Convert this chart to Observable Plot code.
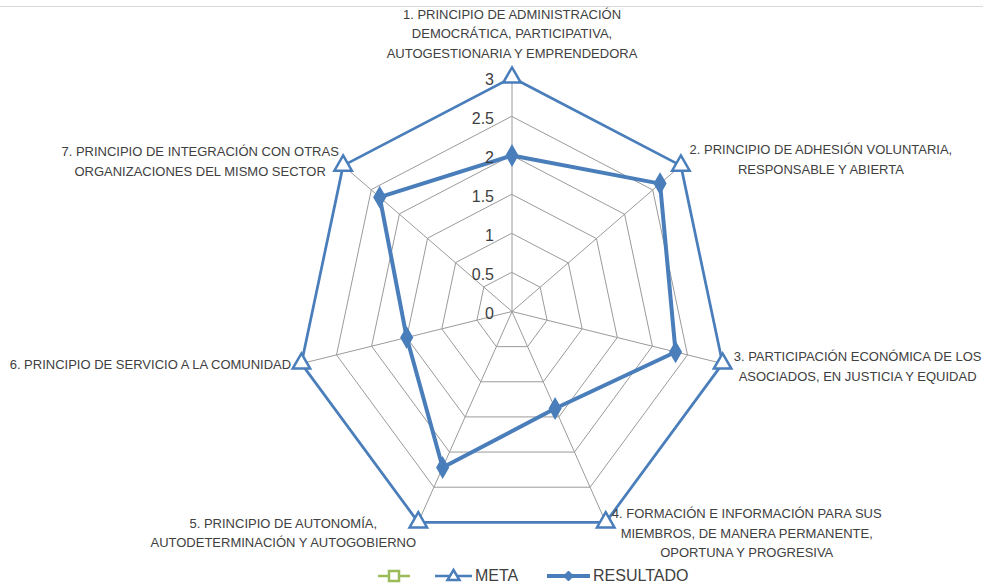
<!DOCTYPE html>
<html>
<head>
<meta charset="utf-8">
<script src="https://cdn.jsdelivr.net/npm/d3@7"></script>
<script src="https://cdn.jsdelivr.net/npm/@observablehq/plot@0.6"></script>
<style>
  html, body { margin: 0; padding: 0; background: #fff; }
  body { width: 983px; height: 588px; position: relative; overflow: hidden; font-family: "Liberation Sans", Arial, sans-serif; }
  #topline { position: absolute; left: 0; top: 6px; width: 983px; height: 0; border-top: 1px solid #d9d9d9; }
  #chart { position: absolute; left: 0; top: 0; }
  #legend { position: absolute; left: 0; top: 565px; width: 983px; height: 22px; font-size: 16px; color: #404040; }
  .item { position: absolute; top: 0; height: 22px; display: flex; align-items: center; }
  .item svg { display: block; }
</style>
</head>
<body>
<div id="topline"></div>
<div id="chart"></div>
<div id="legend"></div>
<script>
const categories = [
  "1. PRINCIPIO DE ADMINISTRACIÓN\nDEMOCRÁTICA, PARTICIPATIVA,\nAUTOGESTIONARIA Y EMPRENDEDORA",
  "2. PRINCIPIO DE ADHESIÓN VOLUNTARIA,\nRESPONSABLE Y ABIERTA",
  "3. PARTICIPACIÓN ECONÓMICA DE LOS\nASOCIADOS, EN JUSTICIA Y EQUIDAD",
  "4. FORMACIÓN E INFORMACIÓN PARA SUS\nMIEMBROS, DE MANERA PERMANENTE,\nOPORTUNA Y PROGRESIVA",
  "5. PRINCIPIO DE AUTONOMÍA,\nAUTODETERMINACIÓN Y AUTOGOBIERNO",
  "6. PRINCIPIO DE SERVICIO A LA COMUNIDAD",
  "7. PRINCIPIO DE INTEGRACIÓN CON OTRAS\nORGANIZACIONES DEL MISMO SECTOR"
];
const meta = [3, 3, 3, 3, 3, 3, 3];
const resultado = [2.0, 2.63, 2.33, 1.38, 2.22, 1.5, 2.35];
const tickValues = [0, 0.5, 1, 1.5, 2, 2.5, 3];
const tickLabels = ["0", "0.5", "1", "1.5", "2", "2.5", "3"];
const gridLevels = [0.5, 1, 1.5, 2, 2.5, 3];
const seriesNames = ["", "META", "RESULTADO"];

const BLUE = "#4A7EBB";
const GREEN = "#9BBB59";
const n = categories.length;
const ang = i => i * 2 * Math.PI / n;
const px = (v, i) => v * Math.sin(ang(i));
const py = (v, i) => v * Math.cos(ang(i));

const gridPts = gridLevels.flatMap(l => categories.map((c, i) => ({level: l, x: px(l, i), y: py(l, i)})));
const spokes = categories.map((c, i) => ({x1: 0, y1: 0, x2: px(3, i), y2: py(3, i)}));
const metaPts = meta.map((v, i) => ({x: px(v, i), y: py(v, i)}));
const resPts = resultado.map((v, i) => ({x: px(v, i), y: py(v, i)}));
const labelPts = categories.map((c, i) => ({label: c, x: px(3, i), y: py(3, i)}));
const tickPts = tickValues.map((v, i) => ({label: tickLabels[i], x: 0, y: v}));

// label offsets (pixels) relative to outer vertex
const labelOffsets = [
  {dx: 0, dy: -20, anchor: "bottom"},
  {dx: 140, dy: -8, anchor: "middle"},
  {dx: 135, dy: 1, anchor: "middle"},
  {dx: 141, dy: 9, anchor: "middle"},
  {dx: -135, dy: 9, anchor: "middle"},
  {dx: -151, dy: -1, anchor: "middle"},
  {dx: -143, dy: -6, anchor: "middle"}
];

const labelMarks = labelPts.map((d, i) => Plot.text([d], {
  x: "x", y: "y", text: "label",
  dx: labelOffsets[i].dx, dy: labelOffsets[i].dy,
  lineAnchor: labelOffsets[i].anchor, textAnchor: "middle",
  lineHeight: 1.5, fontSize: 13, fill: "#404040"
}));

const chart = Plot.plot({
  width: 983,
  height: 564,
  margin: 0,
  x: {domain: [-3, 3], range: [295.5, 727.5], axis: null},
  y: {domain: [-3, 3], range: [545, 77], axis: null},
  style: {fontFamily: "'Liberation Sans', Arial, sans-serif", background: "transparent"},
  marks: [
    Plot.line(gridPts, {x: "x", y: "y", z: "level", curve: "linear-closed", stroke: "#9a9a9a", strokeWidth: 1}),
    Plot.link(spokes, {x1: "x1", y1: "y1", x2: "x2", y2: "y2", stroke: "#9a9a9a", strokeWidth: 1}),
    Plot.line(metaPts, {x: "x", y: "y", curve: "linear-closed", stroke: BLUE, strokeWidth: 2.75}),
    Plot.dot(metaPts, {x: "x", y: "y", symbol: "triangle", r: 6.5, fill: "white", stroke: BLUE, strokeWidth: 2.5}),
    Plot.line(resPts, {x: "x", y: "y", curve: "linear-closed", stroke: BLUE, strokeWidth: 4}),
    Plot.dot(resPts, {x: "x", y: "y", symbol: "diamond", r: 6, fill: BLUE, stroke: BLUE}),
    Plot.text(tickPts, {x: "x", y: "y", text: "label", textAnchor: "end", dx: -18, dy: 2, fontSize: 16, fill: "#404040"}),
    ...labelMarks
  ]
});
document.getElementById("chart").appendChild(chart);

// legend
const legend = document.getElementById("legend");
const ns = "http://www.w3.org/2000/svg";
function item(kind, color, name, left, lineW) {
  const div = document.createElement("div");
  div.className = "item";
  div.style.left = left + "px";
  const svg = document.createElementNS(ns, "svg");
  svg.setAttribute("width", lineW + 4); svg.setAttribute("height", 22);
  const c = (lineW + 4) / 2;
  const line = document.createElementNS(ns, "line");
  line.setAttribute("x1", 2); line.setAttribute("x2", lineW + 2); line.setAttribute("y1", 11); line.setAttribute("y2", 11);
  line.setAttribute("stroke", color); line.setAttribute("stroke-width", kind === "diamond" ? 4 : 2.5);
  svg.appendChild(line);
  let m;
  if (kind === "square") {
    m = document.createElementNS(ns, "rect");
    m.setAttribute("x", c - 5); m.setAttribute("y", 6); m.setAttribute("width", 10); m.setAttribute("height", 10);
    m.setAttribute("fill", "white"); m.setAttribute("stroke", color); m.setAttribute("stroke-width", 2.5);
  } else if (kind === "triangle") {
    m = document.createElementNS(ns, "path");
    m.setAttribute("d", `M${c},5 L${c + 6},15 L${c - 6},15 Z`);
    m.setAttribute("fill", "white"); m.setAttribute("stroke", color); m.setAttribute("stroke-width", 2.5);
  } else {
    m = document.createElementNS(ns, "path");
    m.setAttribute("d", `M${c},6 L${c + 5},11 L${c},16 L${c - 5},11 Z`);
    m.setAttribute("fill", color); m.setAttribute("stroke", color);
  }
  svg.appendChild(m);
  div.appendChild(svg);
  if (name) {
    const s = document.createElement("span");
    s.textContent = name;
    s.style.marginLeft = "1px";
    div.appendChild(s);
  }
  legend.appendChild(div);
}
item("square", GREEN, seriesNames[0], 376, 32);
item("triangle", BLUE, seriesNames[1], 433, 37);
item("diamond", BLUE, seriesNames[2], 545, 43);
</script>
</body>
</html>
